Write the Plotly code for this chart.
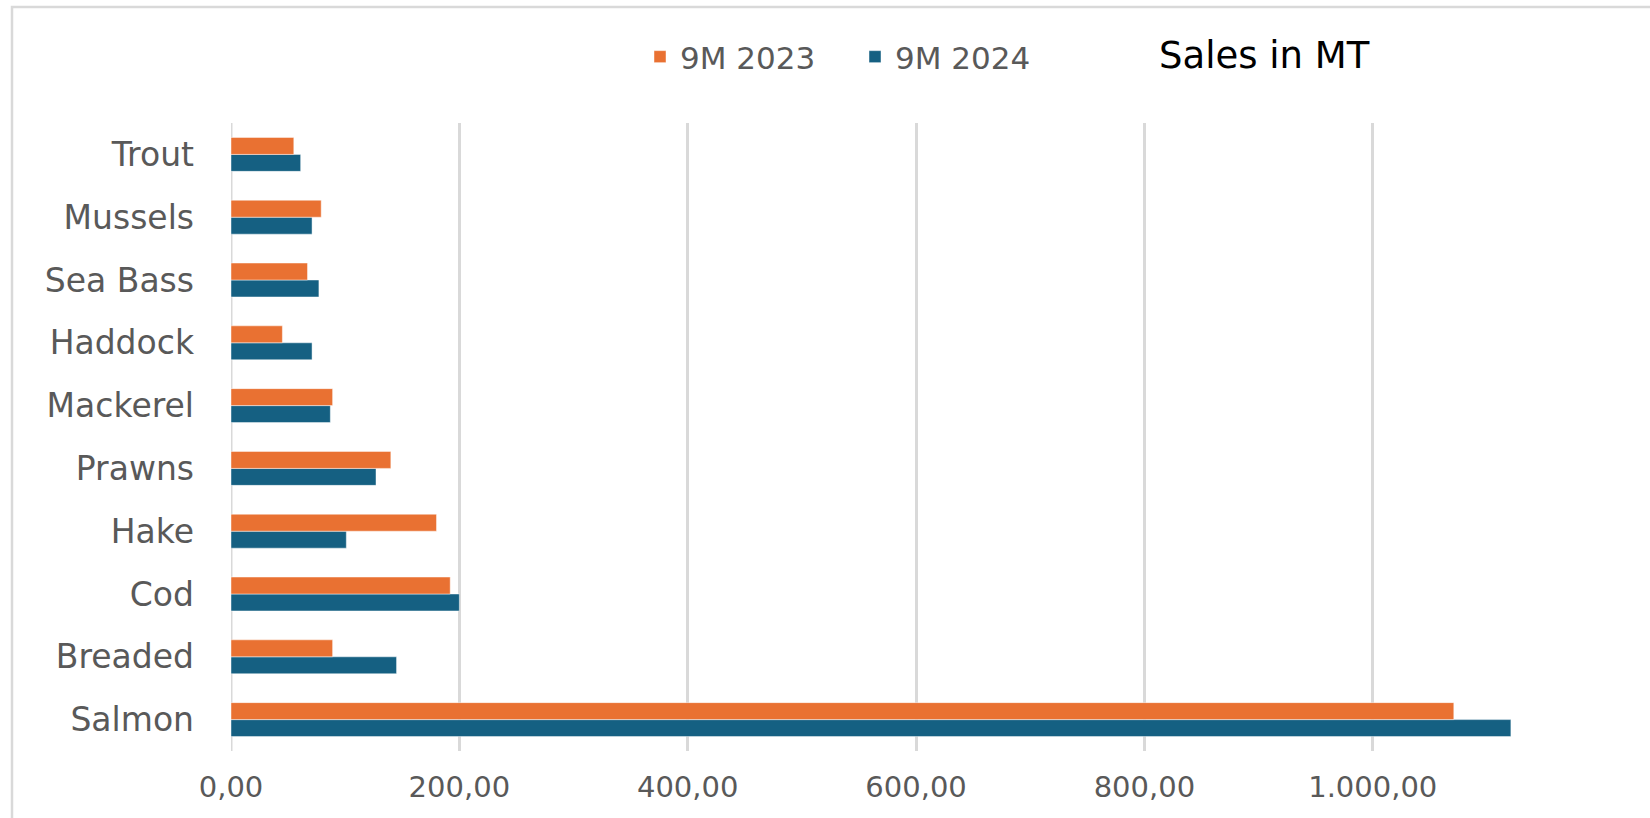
import plotly.graph_objects as go

categories = ["Salmon", "Breaded", "Cod", "Hake", "Prawns", "Mackerel",
              "Haddock", "Sea Bass", "Mussels", "Trout"]
sales_2023 = [1071, 89, 192, 180, 140, 89, 45, 67, 79, 55]
sales_2024 = [1121, 145, 200, 101, 127, 87, 71, 77, 71, 61]
x_ticks = [0, 200, 400, 600, 800, 1000]
x_tick_labels = ["0,00", "200,00", "400,00", "600,00", "800,00", "1.000,00"]

ORANGE = "#E97132"
BLUE = "#156082"
GREY_TXT = "#595959"
GRID = "#D9D9D9"

W, H = 1650, 818
L, R, T, B = 231, 106, 123, 67
pw, ph = W - L - R, H - T - B

fig = go.Figure()
fig.add_trace(go.Bar(y=categories, x=sales_2024, name="9M 2024", orientation="h",
                     marker=dict(color=BLUE, line=dict(color="rgba(255,255,255,0.45)", width=1))))
fig.add_trace(go.Bar(y=categories, x=sales_2023, name="9M 2023", orientation="h",
                     marker=dict(color=ORANGE, line=dict(color="rgba(255,255,255,0.45)", width=1))))

fig.update_layout(
    width=W, height=H,
    margin=dict(l=L, r=R, t=T, b=B, pad=0),
    paper_bgcolor="white", plot_bgcolor="white",
    barmode="group", bargap=0.46, bargroupgap=0,
    font=dict(family="DejaVu Sans", color=GREY_TXT),
    showlegend=True,
    legend=dict(orientation="h", traceorder="reversed",
                x=(640 - L) / pw, xanchor="left",
                y=(H - B - 57) / ph, yanchor="middle",
                entrywidth=170, entrywidthmode="pixels",
                font=dict(family="DejaVu Sans", size=31, color=GREY_TXT),
                bgcolor="rgba(0,0,0,0)", itemclick=False),
    xaxis=dict(range=[0, 1150], tickvals=x_ticks, ticktext=x_tick_labels,
               showgrid=True, gridcolor=GRID, gridwidth=2.5,
               zeroline=False, showline=False,
               tickfont=dict(family="DejaVu Sans", size=29, color=GREY_TXT),
               ticks="", ticklabelstandoff=16, fixedrange=True),
    yaxis=dict(showgrid=False, zeroline=False, showline=False,
               tickfont=dict(family="DejaVu Sans", size=33, color=GREY_TXT),
               ticks="", ticklabelstandoff=36, fixedrange=True),
    annotations=[dict(text="Sales in MT", xref="paper", yref="paper",
                      x=(1264 - L) / pw, y=(H - B - 55) / ph,
                      xanchor="center", yanchor="middle", showarrow=False,
                      font=dict(family="DejaVu Sans", size=37, color="black"))],
    shapes=[
        dict(type="line", xref="x", yref="paper", x0=0, x1=0, y0=0, y1=1,
             line=dict(color=GRID, width=3), layer="below"),
        dict(type="rect", xref="paper", yref="paper",
             x0=(12 - L) / pw, x1=(W + 20 - L) / pw,
             y0=(H - B - (H + 20)) / ph, y1=(H - B - 7) / ph,
             line=dict(color=GRID, width=2.5), fillcolor="rgba(0,0,0,0)", layer="below"),
    ],
)

fig.write_html("out.html")
